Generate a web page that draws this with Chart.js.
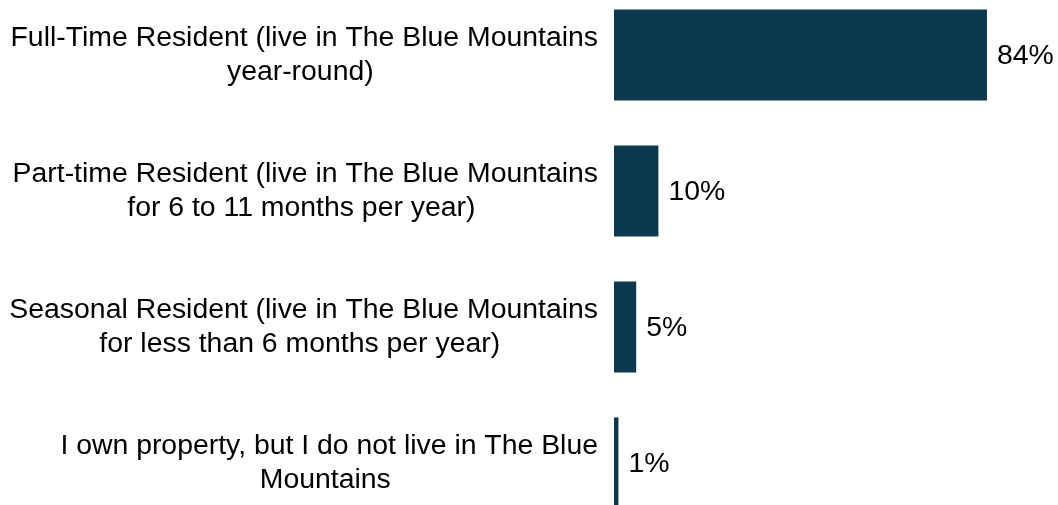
<!DOCTYPE html>
<html>
<head>
<meta charset="utf-8">
<script src="https://cdn.jsdelivr.net/npm/chart.js@4.4.0/dist/chart.umd.min.js"></script>
<style>
  html, body { margin: 0; padding: 0; background: #fff; overflow: hidden; }
  #residencyChart { position: absolute; left: 0; top: -13px; }
</style>
</head>
<body>
<canvas id="residencyChart" width="1058" height="544"></canvas>
<script>
'use strict';

const categories = [
    ['Full-Time Resident (live in The Blue Mountains', 'year-round)'],
    ['Part-time Resident (live in The Blue Mountains', 'for 6 to 11 months per year)'],
    ['Seasonal Resident (live in The Blue Mountains', 'for less than 6 months per year)'],
    ['I own property, but I do not live in The Blue', 'Mountains']
];
const shares = [84, 10, 5, 1];

const barColor = '#0c384c';
const fontFamily = '"Liberation Sans", Arial, sans-serif';
const fontSize = 28.4;
const lineGap = 34;

// category labels: each block right-aligned to the axis, lines centred inside the block
// (the last line carries a trailing space, which nudges it slightly left)
const categoryLabels = {
    id: 'categoryLabels',
    afterDraw(chart) {
        const ctx = chart.ctx;
        const yScale = chart.scales.y;
        const right = chart.chartArea.left - 16;
        ctx.save();
        ctx.font = fontSize + 'px ' + fontFamily;
        ctx.fillStyle = '#000';
        ctx.textAlign = 'center';
        ctx.textBaseline = 'middle';
        categories.forEach((lines, i) => {
            const widest = Math.max(...lines.map(l => ctx.measureText(l).width));
            const cx = right - widest / 2;
            const cy = yScale.getPixelForTick(i);
            const top = cy - (lines.length - 1) * lineGap / 2;
            lines.forEach((l, j) => {
                const t = j === lines.length - 1 ? l + ' ' : l;
                ctx.fillText(t, cx, top + j * lineGap);
            });
        });
        ctx.restore();
    }
};

// writes "NN%" just past the end of each bar
const valueLabels = {
    id: 'valueLabels',
    afterDatasetsDraw(chart) {
        const ctx = chart.ctx;
        const meta = chart.getDatasetMeta(0);
        ctx.save();
        ctx.font = fontSize + 'px ' + fontFamily;
        ctx.fillStyle = '#000';
        ctx.textAlign = 'left';
        ctx.textBaseline = 'middle';
        meta.data.forEach((bar, i) => {
            ctx.fillText(shares[i] + '%', bar.x + 10, bar.y + 1);
        });
        ctx.restore();
    }
};

const ctx = document.getElementById('residencyChart').getContext('2d');
new Chart(ctx, {
    type: 'bar',
    data: {
        labels: categories,
        datasets: [{
            data: shares,
            backgroundColor: barColor,
            borderWidth: 0,
            categoryPercentage: 1,
            barPercentage: 0.67
        }]
    },
    options: {
        indexAxis: 'y',
        responsive: false,
        animation: false,
        layout: { padding: 0 },
        plugins: {
            legend: { display: false },
            tooltip: { enabled: false }
        },
        scales: {
            x: {
                display: false,
                min: 0,
                max: 100
            },
            y: {
                grid: { display: false },
                border: { display: false },
                afterFit(scale) { scale.width = 614; },
                ticks: { display: false }
            }
        }
    },
    plugins: [valueLabels, categoryLabels]
});
</script>
</body>
</html>
